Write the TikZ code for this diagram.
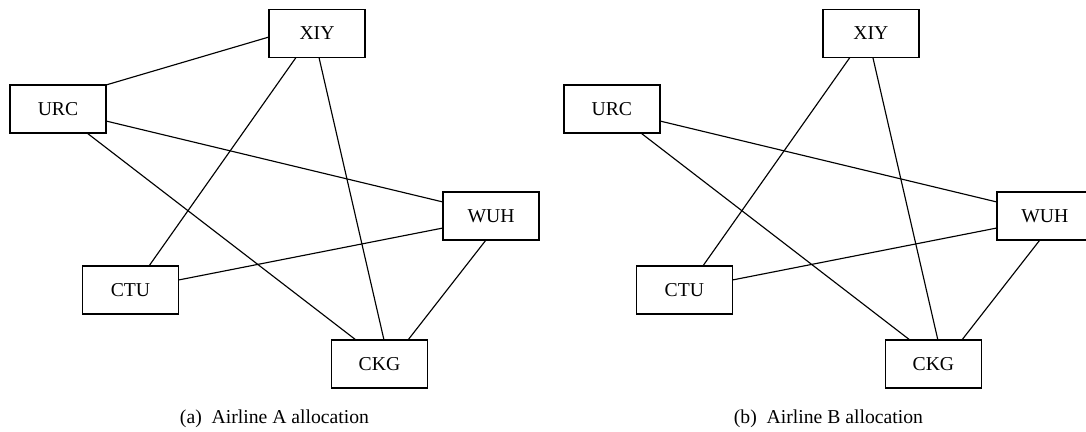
\documentclass[tikz,border=0pt]{standalone}
\usepackage{tikz}
\usepackage{fontspec}
\setmainfont{Liberation Serif}
\tikzset{
    airport/.style={draw, line width=0.7pt, minimum width=1.92cm, minimum height=0.96cm,
        inner sep=0pt, outer sep=0pt, font=\fontsize{11.2}{13}\selectfont},
    route/.style={line width=0.65pt},
    caption/.style={anchor=base, font=\fontsize{11.2}{13}\selectfont},
}

\begin{document}
\begin{tikzpicture}[x=0.02cm, y=-0.02cm]
\clip (0,0) rectangle (1086,432);
\useasboundingbox (0,0) rectangle (1086,432);

% (a) airline A
\begin{scope}
\node[airport] (xiyA) at (317,33.5) {XIY};
\node[airport] (urcA) at (58,109) {URC};
\node[airport] (wuhA) at (491,216) {WUH};
\node[airport] (ctuA) at (130.5,290) {CTU};
\node[airport] (ckgA) at (379.5,364) {CKG};

\draw[route] (urcA.north east) -- ([yshift=-0.07cm]xiyA.west);
\draw[route] ([xshift=-0.42cm]xiyA.south) -- ([xshift=0.37cm]ctuA.north);
\draw[route] ([xshift=0.04cm]xiyA.south) -- ([xshift=0.09cm]ckgA.north);
\draw[route] ([yshift=-0.24cm]urcA.east) -- ([yshift=0.28cm]wuhA.west);
\draw[route] ([xshift=0.58cm]urcA.south) -- ([xshift=-0.47cm]ckgA.north);
\draw[route] ([yshift=0.2cm]ctuA.east) -- ([yshift=-0.24cm]wuhA.west);
\draw[route] ([xshift=-0.1cm]wuhA.south) -- ([xshift=0.57cm]ckgA.north);

\node[caption] (capA) at (274.5,423) {(a)\enspace Airline A allocation};
\end{scope}

% (b) airline B
\begin{scope}[xshift=11.08cm]
\node[airport] (xiyB) at (317,33.5) {XIY};
\node[airport] (urcB) at (58,109) {URC};
\node[airport] (wuhB) at (491,216) {WUH};
\node[airport] (ctuB) at (130.5,290) {CTU};
\node[airport] (ckgB) at (379.5,364) {CKG};

\draw[route] ([xshift=-0.42cm]xiyB.south) -- ([xshift=0.37cm]ctuB.north);
\draw[route] ([xshift=0.04cm]xiyB.south) -- ([xshift=0.09cm]ckgB.north);
\draw[route] ([yshift=-0.24cm]urcB.east) -- ([yshift=0.28cm]wuhB.west);
\draw[route] ([xshift=0.58cm]urcB.south) -- ([xshift=-0.47cm]ckgB.north);
\draw[route] ([yshift=0.2cm]ctuB.east) -- ([yshift=-0.24cm]wuhB.west);
\draw[route] ([xshift=-0.1cm]wuhB.south) -- ([xshift=0.57cm]ckgB.north);

\node[caption] (capB) at (274.5,423) {(b)\enspace Airline B allocation};
\end{scope}
\end{tikzpicture}
\end{document}
